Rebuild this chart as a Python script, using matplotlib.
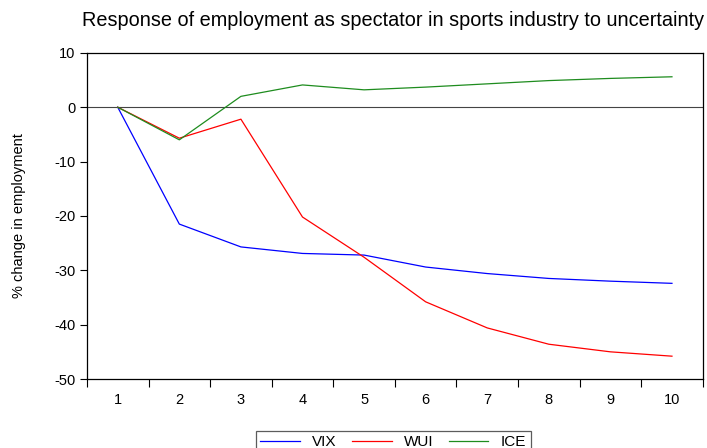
import matplotlib
matplotlib.use("Agg")
from matplotlib import pyplot as plt

plt.rcParams['font.family'] = ['Liberation Sans', 'DejaVu Sans']
plt.rcParams['axes.unicode_minus'] = False

# impulse response horizons and responses (% change in employment)
periods = [1, 2, 3, 4, 5, 6, 7, 8, 9, 10]
vix = [0.0, -21.5, -25.7, -26.9, -27.2, -29.4, -30.6, -31.5, -32.0, -32.4]
wui = [0.0, -5.7, -2.2, -20.2, -27.6, -35.8, -40.6, -43.6, -45.0, -45.8]
ice = [0.0, -6.0, 2.0, 4.1, 3.2, 3.7, 4.3, 4.9, 5.3, 5.6]
yticks = [10, 0, -10, -20, -30, -40, -50]

fig = plt.figure(figsize=(7.07, 4.48), dpi=100)
ax = fig.add_axes([0.123, 0.154, 0.871, 0.728])

ax.plot(periods, vix, color='#0000ff', lw=0.9, label='VIX')
ax.plot(periods, wui, color='#ff0000', lw=0.9, label='WUI')
ax.plot(periods, ice, color='#1e8c1e', lw=0.9, label='ICE')
ax.axhline(0, color='#444444', lw=0.8, zorder=1)

ax.set_xlim(0.5, 10.5)
ax.set_ylim(-50, 10)
ax.set_yticks(yticks)
ax.set_xticks(periods)
ax.set_xticklabels([str(p) for p in periods])
ax.set_xticks([p + 0.5 for p in range(0, 11)], minor=True)
ax.tick_params(axis='x', which='major', length=0, pad=10, labelsize=10.5)
ax.tick_params(axis='x', which='minor', length=6, width=0.8, direction='out')
ax.tick_params(axis='y', length=5, width=0.8, labelsize=10.5)
for s in ax.spines.values():
    s.set_linewidth(0.9)
    s.set_color('black')

ax.set_ylabel('% change in employment', fontsize=10.5, labelpad=20)
fig.text(0.556, 0.955, 'Response of employment as spectator in sports industry to uncertainty',
         ha='center', va='center', fontsize=14.3)

leg = fig.legend(loc='upper center', bbox_to_anchor=(0.556, 0.056), ncol=3,
                 frameon=True, fancybox=False, fontsize=11, handlelength=2.6,
                 columnspacing=1.0, borderpad=0.3)
leg.get_frame().set_edgecolor('#333333')
leg.get_frame().set_linewidth(0.9)

fig.savefig('out.png', dpi=100)
